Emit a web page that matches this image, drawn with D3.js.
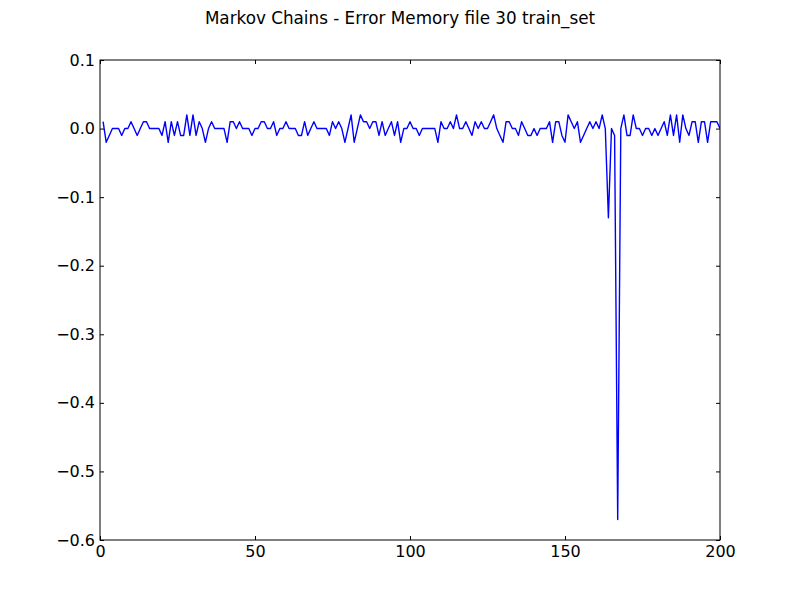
<!DOCTYPE html>
<html>
<head>
<meta charset="utf-8">
<script src="https://cdn.jsdelivr.net/npm/d3@7"></script>
<style>
  body { margin: 0; background: #fff; }
  svg { display: block; }
  text { font-family: "DejaVu Sans", sans-serif; }
</style>
</head>
<body>
<svg id="chart" width="800" height="600"></svg>
<script>
const title = "Markov Chains - Error Memory file 30 train_set";
const xStart = 1;
const errorValues = [
  0.01, -0.02, -0.01, 0, 0, 0, -0.01, 0, 0, 0.01,
  0, -0.01, 0, 0.01, 0.01, 0, 0, 0, 0, -0.01,
  0.01, -0.02, 0.01, -0.01, 0.01, -0.01, -0.01, 0.02, -0.01, 0.02,
  -0.01, 0.01, 0, -0.02, 0, 0.01, 0, 0, 0, 0,
  -0.02, 0.01, 0.01, 0, 0.01, 0, 0, 0, -0.01, 0,
  0, 0.01, 0.01, 0, 0, 0.01, -0.01, 0, 0, 0.01,
  0, 0, 0, -0.01, -0.01, 0.01, -0.01, 0, 0.01, 0,
  0, 0, 0, -0.01, 0.01, 0, 0.01, 0, -0.02, 0,
  0.02, -0.02, 0, 0.02, 0.01, 0.01, 0, 0.01, 0.01, -0.01,
  0.01, -0.01, 0, 0.01, -0.01, 0.01, -0.02, 0, 0, 0.01,
  0, 0, -0.01, 0, 0, 0, 0, 0, -0.02, 0.01,
  0, 0, 0.01, 0, 0.02, 0, 0, 0.01, 0, -0.01,
  0.01, 0, 0.01, 0, 0, 0.01, 0.02, 0, -0.01, -0.02,
  0.01, 0.01, 0, 0, -0.01, 0.01, 0, -0.01, -0.01, 0,
  -0.01, 0, 0, 0, 0.01, -0.02, 0.01, 0.01, -0.01, -0.02,
  0.02, 0.01, 0, 0.01, -0.02, -0.01, 0, 0.01, 0, 0.01,
  0, 0.02, 0, -0.13, 0, -0.01, -0.57, 0, 0.02, -0.01,
  -0.01, 0.02, 0, 0, -0.01, 0, 0, -0.01, 0, -0.01,
  0, 0.01, -0.01, 0.02, -0.01, 0.02, -0.02, 0.02, 0, -0.01,
  0.01, 0.01, -0.02, 0.01, 0.01, -0.02, 0.01, 0.01, 0.01, 0
];
const xTicks = [0, 50, 100, 150, 200];
const yTicks = [0.1, 0.0, -0.1, -0.2, -0.3, -0.4, -0.5, -0.6];

const W = 800, H = 600;
const m = { left: 100, right: 80, top: 60, bottom: 60 };
const pw = W - m.left - m.right, ph = H - m.top - m.bottom;

const svg = d3.select("#chart");
svg.append("rect").attr("width", W).attr("height", H).attr("fill", "#fff");

const x = d3.scaleLinear().domain([0, 200]).range([m.left, m.left + pw]);
const y = d3.scaleLinear().domain([-0.6, 0.1]).range([m.top + ph, m.top]);

const data = errorValues.map((v, i) => ({ x: xStart + i, y: v }));

const g = svg.append("g");

const clipId = "clip";
svg.append("clipPath").attr("id", clipId).append("rect")
  .attr("x", m.left).attr("y", m.top).attr("width", pw).attr("height", ph);
g.append("path")
  .datum(data)
  .attr("clip-path", `url(#${clipId})`)
  .attr("fill", "none")
  .attr("stroke", "#0000ff")
  .attr("stroke-width", 1.4)
  .attr("stroke-linejoin", "round")
  .attr("d", d3.line().x(d => x(d.x)).y(d => y(d.y)));

const fmtY = v => d3.format(".1f")(v).replace("-", "\u2212");
const tickStyle = sel => {
  sel.select(".domain").remove();
  sel.selectAll(".tick line").attr("stroke", "#000").attr("stroke-width", 1);
  sel.selectAll(".tick text").attr("font-size", 16).attr("fill", "#000")
     .attr("font-family", "DejaVu Sans, sans-serif");
};

g.append("g").attr("transform", `translate(0,${m.top + ph})`)
  .call(d3.axisBottom(x).tickValues(xTicks).tickSize(-4).tickPadding(6).tickFormat(d3.format("d")))
  .call(tickStyle);
g.append("g").attr("transform", `translate(0,${m.top})`)
  .call(d3.axisTop(x).tickValues(xTicks).tickSize(-4).tickFormat(""))
  .call(tickStyle);
g.append("g").attr("transform", `translate(${m.left},0)`)
  .call(d3.axisLeft(y).tickValues(yTicks).tickSize(-4).tickPadding(5).tickFormat(fmtY))
  .call(tickStyle);
g.append("g").attr("transform", `translate(${m.left + pw},0)`)
  .call(d3.axisRight(y).tickValues(yTicks).tickSize(-4).tickFormat(""))
  .call(tickStyle);

g.append("rect").attr("x", m.left).attr("y", m.top).attr("width", pw).attr("height", ph)
  .attr("fill", "none").attr("stroke", "#000").attr("stroke-width", 1);

svg.append("text").attr("x", W / 2).attr("y", 24)
  .attr("text-anchor", "middle").attr("font-size", 16.8).attr("fill", "#000")
  .text(title);
</script>
</body>
</html>
